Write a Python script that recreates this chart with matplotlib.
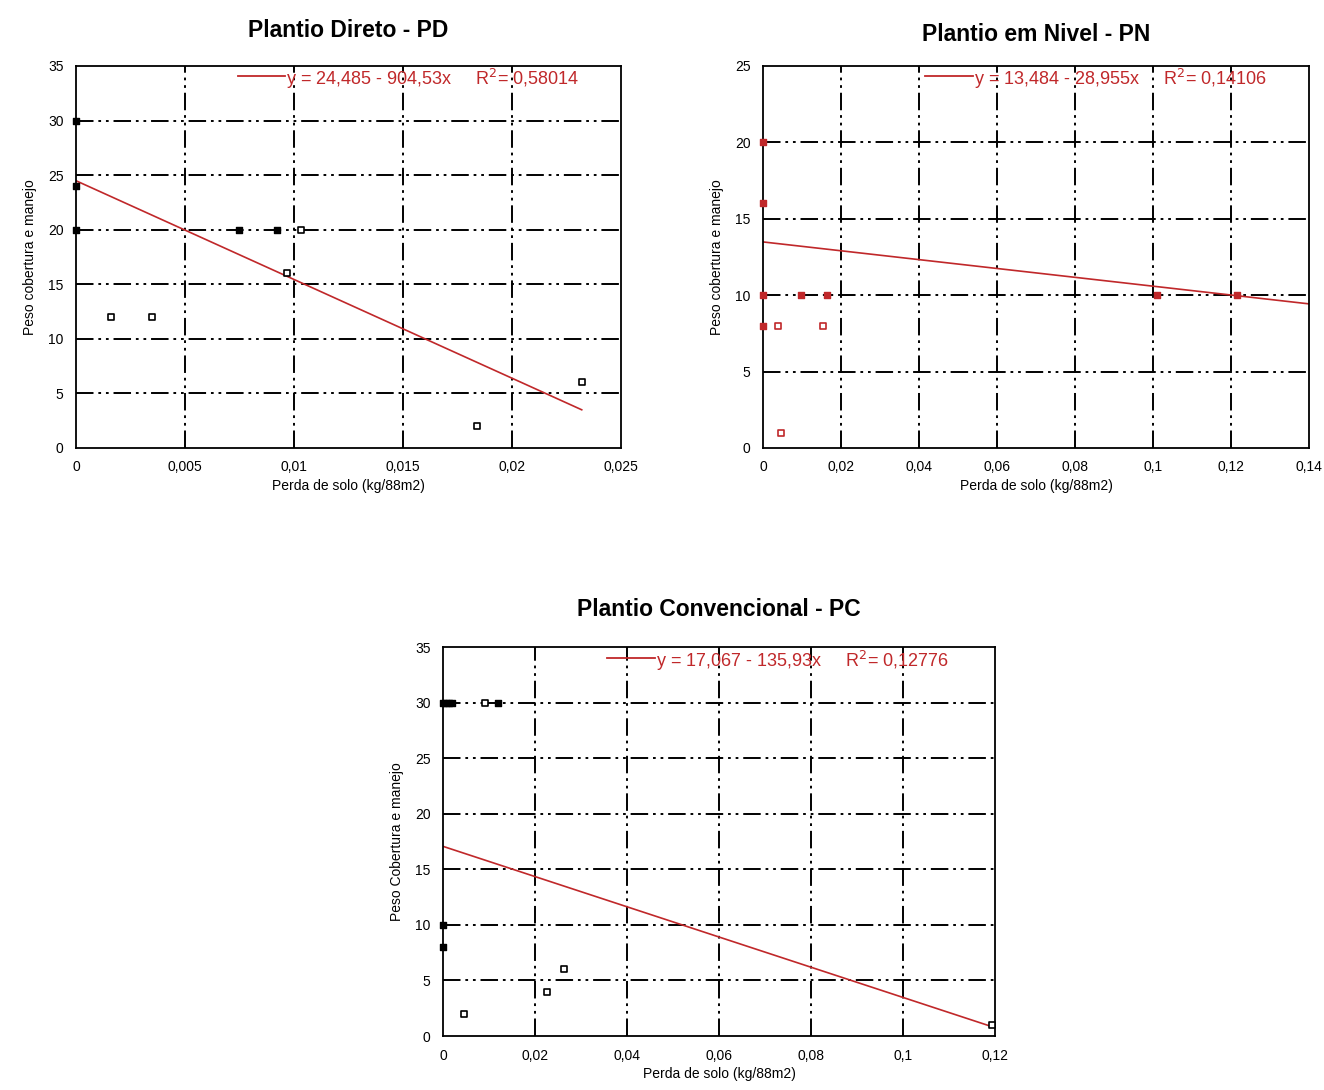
import numpy as np
import matplotlib
matplotlib.use("Agg")
import matplotlib.pyplot as plt

plt.rcParams['font.family'] = ['Liberation Sans', 'DejaVu Sans']

# Plantio Direto - PD
pd_x_cheio = [0, 0, 0, 0.0075, 0.0092]
pd_y_cheio = [30, 24, 20, 20, 20]
pd_x_vazio = [0.0103, 0.0097, 0.0016, 0.0035, 0.0184, 0.0232]
pd_y_vazio = [20, 16, 12, 12, 2, 6]
pd_coef = [24.485, -904.53]
pd_xfim = 0.0232

# Plantio em Nivel - PN
pn_x_cheio = [0, 0, 0, 0, 0.0097, 0.0164, 0.101, 0.1215]
pn_y_cheio = [20, 16, 10, 8, 10, 10, 10, 10]
pn_x_vazio = [0.0038, 0.0154, 0.0046]
pn_y_vazio = [8, 8, 1]
pn_coef = [13.484, -28.955]
pn_xfim = 0.14

# Plantio Convencional - PC
pc_x_cheio = [0, 0.0006, 0.0012, 0.0019, 0.012, 0, 0]
pc_y_cheio = [30, 30, 30, 30, 30, 10, 8]
pc_x_vazio = [0.0091, 0.0046, 0.0226, 0.0264, 0.1194]
pc_y_vazio = [30, 2, 4, 6, 1]
pc_coef = [17.067, -135.93]
pc_xfim = 0.1194

vermelho = '#c0282a'
grade = dict(color='black', linewidth=1.4, dashes=(9, 2.5, 1.4, 2.5, 1.4, 2.5))


def painel(ax, titulo, xc, yc, xv, yv, coef, xfim, xmax, xstep, ymax, yl, legtxt,
           cor_pts='black', tpad=20):
    ax.set_xlim(0, xmax)
    ax.set_ylim(0, ymax)
    xt = np.arange(0, xmax + xstep / 2, xstep)
    yt = np.arange(0, ymax + 1, 5)
    ax.set_xticks(xt)
    ax.set_yticks(yt)
    ax.set_xticklabels([f"{v:g}".replace('.', ',') for v in xt])
    ax.set_yticklabels([str(int(v)) for v in yt])
    ax.tick_params(length=0, labelsize=10, pad=9)
    for v in xt[1:-1]:
        ax.axvline(v, zorder=1, **grade)
    for v in yt[1:-1]:
        ax.axhline(v, zorder=1, **grade)
    for s in ax.spines.values():
        s.set_linewidth(1.3)
    xs = np.array([0, xfim])
    ax.plot(xs, coef[0] + coef[1] * xs, color=vermelho, lw=1.2, zorder=2)
    ax.scatter(xc, yc, marker='s', s=20, color=cor_pts, zorder=3, clip_on=False)
    ax.scatter(xv, yv, marker='s', s=20, facecolor='white', edgecolor=cor_pts,
               linewidth=1.2, zorder=3, clip_on=False)
    ax.plot([0.297, 0.384], [0.973, 0.973], transform=ax.transAxes, color=vermelho, lw=1.3)
    ax.text(0.386, 0.965, legtxt, transform=ax.transAxes, color=vermelho,
            fontsize=13, va='center', ha='left')
    ax.set_title(titulo, fontsize=16.5, fontweight='bold', pad=tpad)
    ax.set_xlabel('Perda de solo (kg/88m2)', fontsize=10, labelpad=3)
    ax.set_ylabel(yl, fontsize=10, labelpad=8)


fig = plt.figure(figsize=(13.24, 10.90), dpi=100)
ax1 = fig.add_axes([0.0574, 0.589, 0.4116, 0.3505])
ax2 = fig.add_axes([0.5763, 0.589, 0.4124, 0.3505])
ax3 = fig.add_axes([0.3346, 0.0495, 0.4169, 0.3569])

painel(ax1, 'Plantio Direto - PD', pd_x_cheio, pd_y_cheio, pd_x_vazio, pd_y_vazio,
       pd_coef, pd_xfim, 0.025, 0.005, 35, 'Peso cobertura e manejo',
       'y = 24,485 - 904,53x     R$^2$= 0,58014', tpad=21)
painel(ax2, 'Plantio em Nivel - PN', pn_x_cheio, pn_y_cheio, pn_x_vazio, pn_y_vazio,
       pn_coef, pn_xfim, 0.14, 0.02, 25, 'Peso cobertura e manejo',
       'y = 13,484 - 28,955x     R$^2$= 0,14106', cor_pts=vermelho, tpad=18)
painel(ax3, 'Plantio Convencional - PC', pc_x_cheio, pc_y_cheio, pc_x_vazio, pc_y_vazio,
       pc_coef, pc_xfim, 0.12, 0.02, 35, 'Peso Cobertura e manejo',
       'y = 17,067 - 135,93x     R$^2$= 0,12776', tpad=22)

fig.savefig('out.png', dpi=100)
